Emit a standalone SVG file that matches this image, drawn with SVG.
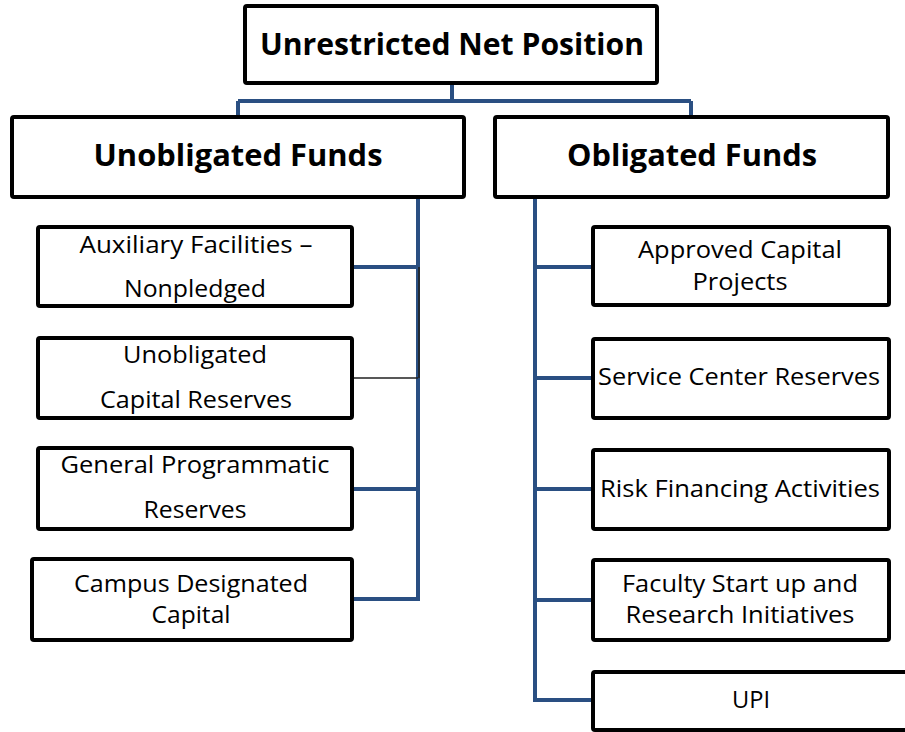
<svg xmlns="http://www.w3.org/2000/svg" width="905" height="732" viewBox="0 0 905 732">
<style>
.box{fill:#fff;stroke:#000;stroke-width:4}
.c{fill:none;stroke:#2a4f82;stroke-width:4}
.thin{fill:none;stroke:#222;stroke-width:1.6}
text{font-family:"Open Sans","Liberation Sans",sans-serif;fill:#000;text-anchor:middle}
.h{font-size:31px;font-weight:bold}
.t{font-size:24px}
</style>
<rect width="905" height="732" fill="#fff"/>
<g id="connectors">
<path class="c" d="M452 83V101M238 101H691M238 101V117M691 101V117"/>
<path class="c" d="M418 197V599H352M352 267H418M352 489H418"/>
<path class="thin" d="M352 378H418M419 267V378"/>
<path class="c" d="M535 197V700H593M535 267H593M535 378H593M535 489H593M535 600H593"/>
</g>
<g id="root"><rect class="box" x="245" y="6" width="412" height="77" rx="2"/><text class="h" x="452" y="55" textLength="384" lengthAdjust="spacingAndGlyphs">Unrestricted Net Position</text></g>
<g id="unobligated"><rect class="box" x="12" y="117" width="452" height="80" rx="2"/><text class="h" x="238" y="166" textLength="289" lengthAdjust="spacingAndGlyphs">Unobligated Funds</text></g>
<g id="obligated"><rect class="box" x="495" y="117" width="393" height="80" rx="2"/><text class="h" x="692" y="166" textLength="250" lengthAdjust="spacingAndGlyphs">Obligated Funds</text></g>
<g id="aux"><rect class="box" x="38" y="227" width="314" height="79" rx="2"/><text class="t" x="196" y="253" textLength="233" lengthAdjust="spacingAndGlyphs">Auxiliary Facilities –</text><text class="t" x="195" y="297" textLength="142" lengthAdjust="spacingAndGlyphs">Nonpledged</text></g>
<g id="ucr"><rect class="box" x="38" y="338" width="314" height="80" rx="2"/><text class="t" x="195" y="363" textLength="144" lengthAdjust="spacingAndGlyphs">Unobligated</text><text class="t" x="196" y="408" textLength="192" lengthAdjust="spacingAndGlyphs">Capital Reserves</text></g>
<g id="gpr"><rect class="box" x="38" y="448" width="314" height="81" rx="2"/><text class="t" x="195" y="473" textLength="269" lengthAdjust="spacingAndGlyphs">General Programmatic</text><text class="t" x="195" y="518" textLength="103" lengthAdjust="spacingAndGlyphs">Reserves</text></g>
<g id="cdc"><rect class="box" x="32" y="559" width="320" height="81" rx="2"/><text class="t" x="191" y="592" textLength="234" lengthAdjust="spacingAndGlyphs">Campus Designated</text><text class="t" x="191" y="623" textLength="79" lengthAdjust="spacingAndGlyphs">Capital</text></g>
<g id="acp"><rect class="box" x="593" y="227" width="296" height="78" rx="2"/><text class="t" x="740" y="258" textLength="204" lengthAdjust="spacingAndGlyphs">Approved Capital</text><text class="t" x="740" y="290" textLength="95" lengthAdjust="spacingAndGlyphs">Projects</text></g>
<g id="scr"><rect class="box" x="593" y="339" width="296" height="79" rx="2"/><text class="t" x="739" y="385" textLength="282" lengthAdjust="spacingAndGlyphs">Service Center Reserves</text></g>
<g id="rfa"><rect class="box" x="593" y="450" width="296" height="79" rx="2"/><text class="t" x="740" y="497" textLength="280" lengthAdjust="spacingAndGlyphs">Risk Financing Activities</text></g>
<g id="fsr"><rect class="box" x="593" y="560" width="296" height="80" rx="2"/><text class="t" x="740" y="592" textLength="236" lengthAdjust="spacingAndGlyphs">Faculty Start up and</text><text class="t" x="740" y="623" textLength="229" lengthAdjust="spacingAndGlyphs">Research Initiatives</text></g>
<g id="upi"><rect class="box" x="593" y="672" width="330" height="58" rx="2"/><text class="t" x="751" y="708" textLength="38" lengthAdjust="spacingAndGlyphs">UPI</text></g>
</svg>
